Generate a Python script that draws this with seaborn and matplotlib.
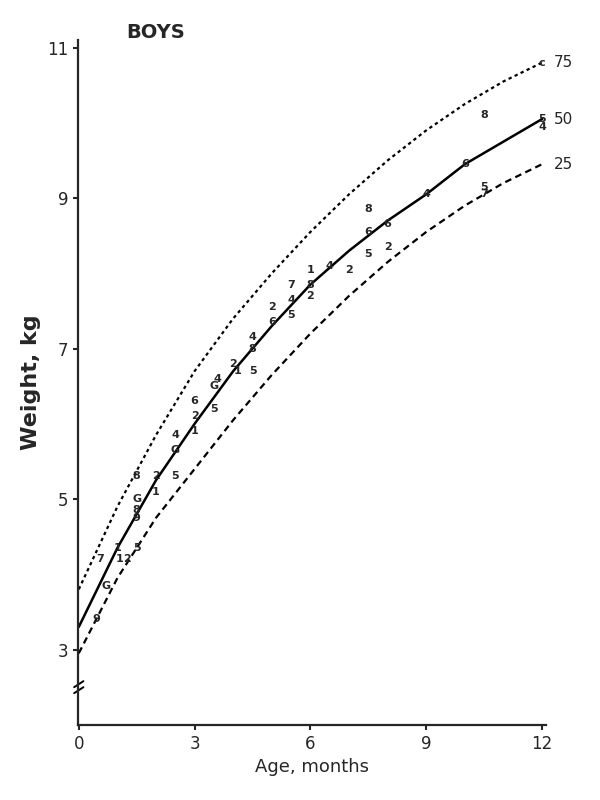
import numpy as np
import pandas as pd
import matplotlib.pyplot as plt
import seaborn as sns

# percentile curves (age in months, weight in kg)
ages = [0, 1, 2, 3, 4, 5, 6, 7, 8, 9, 10, 11, 12]
p75 = [3.8, 4.9, 5.85, 6.7, 7.4, 8.0, 8.55, 9.05, 9.5, 9.9, 10.25, 10.55, 10.8]
p50 = [3.3, 4.35, 5.25, 6.0, 6.7, 7.3, 7.85, 8.3, 8.7, 9.05, 9.45, 9.75, 10.05]
p25 = [2.95, 3.95, 4.75, 5.4, 6.05, 6.65, 7.2, 7.7, 8.15, 8.55, 8.9, 9.2, 9.45]

# individual observations, marked by study code
obs_age = [0.45, 0.7, 0.55, 1.0, 1.05, 1.25, 1.5, 1.5, 1.5, 1.5, 1.5, 2.0, 2.0, 2.5, 2.5, 2.5,
           3.0, 3.0, 3.0, 3.5, 3.5, 3.6, 4.0, 4.1, 4.5, 4.5, 4.5, 5.0, 5.0, 5.5, 5.5, 5.5,
           6.0, 6.0, 6.0, 6.5, 7.0, 7.5, 7.5, 7.5, 8.0, 8.0, 9.0, 10.0, 10.5, 10.5, 10.5,
           12.0, 12.0, 12.0]
obs_wt = [3.4, 3.85, 4.2, 4.35, 4.2, 4.2, 4.35, 4.75, 4.85, 5.0, 5.3, 5.1, 5.3, 5.3, 5.65, 5.85,
          5.9, 6.1, 6.3, 6.2, 6.5, 6.6, 6.8, 6.7, 6.7, 7.0, 7.15, 7.35, 7.55, 7.45, 7.65, 7.85,
          7.7, 7.85, 8.05, 8.1, 8.05, 8.25, 8.55, 8.85, 8.35, 8.65, 9.05, 9.45, 9.15, 9.05, 10.1,
          10.05, 9.95, 10.8]
obs_code = ['9', 'G', '7', '1', '1', '2', '5', '9', '8', 'G', '8', '1', '2', '5', 'G', '4',
            '1', '2', '6', '5', 'G', '4', '2', '1', '5', '8', '4', '6', '2', '5', '4', '7',
            '2', '8', '1', '4', '2', '5', '6', '8', '2', '6', '4', '6', '5', '7', '8',
            '5', '4', 'c']

sns.set_style("ticks")
plt.rcParams['font.family'] = ['DejaVu Sans']

fig = plt.figure(figsize=(6, 8), dpi=100)
ax = fig.add_axes([0.13, 0.094, 0.78, 0.856])

df = pd.DataFrame({'age': ages, 'p75': p75, 'p50': p50, 'p25': p25})
sns.lineplot(data=df, x='age', y='p75', ax=ax, color='black', lw=1.6, linestyle=(0, (1.5, 1.5)))
sns.lineplot(data=df, x='age', y='p50', ax=ax, color='black', lw=1.8)
sns.lineplot(data=df, x='age', y='p25', ax=ax, color='black', lw=1.6, linestyle=(0, (3, 2)))

for a, w, c in zip(obs_age, obs_wt, obs_code):
    ax.text(a, w, c, fontsize=8, fontweight='bold', ha='center', va='center')

ax.text(12.3, p75[-1], '75', fontsize=11, va='center')
ax.text(12.3, p50[-1], '50', fontsize=11, va='center')
ax.text(12.3, p25[-1], '25', fontsize=11, va='center')
ax.text(2.0, 11.2, 'BOYS', fontsize=14, fontweight='bold', ha='center', va='center')

ax.set_xlim(-0.02, 12.1)
ax.set_ylim(2.0, 11.1)
ax.set_xticks([0, 3, 6, 9, 12])
ax.set_yticks([3, 5, 7, 9, 11])
ax.tick_params(labelsize=12, direction='out', width=1.5)
ax.set_xlabel('Age, months', fontsize=13)
ax.set_ylabel('Weight, kg', fontsize=16, fontweight='bold')
for s in ['top', 'right']:
    ax.spines[s].set_visible(False)
for s in ['left', 'bottom']:
    ax.spines[s].set_linewidth(1.6)
# axis break mark
ax.plot([-0.12, 0.12], [2.5, 2.58], color='black', lw=1.4, clip_on=False)
ax.plot([-0.12, 0.12], [2.42, 2.5], color='black', lw=1.4, clip_on=False)

fig.savefig('out.png', dpi=100)
